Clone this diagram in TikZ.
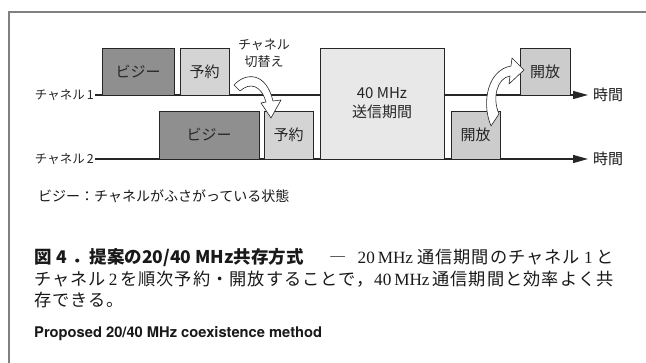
\documentclass[tikz,border=0pt]{standalone}
\usepackage{fontspec}
\setmainfont{Noto Sans CJK JP}
\newfontfamily\jp{Noto Sans CJK JP}
\newfontfamily\capjp{Noto Sans CJK JP}[LetterSpace=6]
\newfontfamily\hel{TeX Gyre Heros}
\newfontfamily\ser{Liberation Serif}
\usetikzlibrary{arrows.meta}
\begin{document}
\begin{tikzpicture}[x=1pt,y=-1pt,
  chlab/.style={font=\fontsize{12.5}{14}\selectfont, inner sep=1pt, text=black!85},
  timelab/.style={font=\fontsize{15}{17}\selectfont, inner sep=0pt, anchor=west, text=black!90},
  chline/.style={line width=1.2pt, black!85},
  boxbase/.style={draw=black!85, line width=0.9pt, inner sep=0pt,
    font=\fontsize{15}{19}\selectfont, text=black!85, align=center},
  busy/.style={boxbase, fill=black!44},
  resv/.style={boxbase, fill=black!17},
  wide/.style={boxbase, fill=black!9},
  relb/.style={boxbase, fill=black!20},
  fat/.style={draw=black!85, line width=0.6pt, fill=white, line join=round},
  captxt/.style={inner sep=0pt, font=\fontsize{17.2}{20}\selectfont\capjp, text=black!90},
]
\useasboundingbox (0,0) rectangle (646,363);
\fill[white] (0,0) rectangle (646,363);
% frame
\draw[black!50, line width=1.6pt] (9,363) -- (9,12) -- (646,12);

% channel labels and time labels
\node[chlab, anchor=east] (c1) at (95,95) {チャネル\,1};
\node[chlab, anchor=east] (c2) at (95,159) {チャネル\,2};
\node[timelab] (t1) at (593,95) {時間};
\node[timelab] (t2) at (593,159) {時間};

\draw[chline, -{Triangle[length=15pt,width=8pt]}] (c1.east) -- ([xshift=-5pt]t1.west);
\draw[chline, -{Triangle[length=15pt,width=8pt]}] (c2.east) -- ([xshift=-5pt]t2.west);

% boxes
\node[busy, minimum width=72pt, minimum height=47pt] (b1) at (138,71.5) {ビジー};
\node[resv, minimum width=49pt, minimum height=47pt] (r1) at (204.5,71.5) {予約};
\node[busy, minimum width=100pt, minimum height=48pt] (b2) at (209,135) {ビジー};
\node[resv, minimum width=49pt, minimum height=48pt] (r2) at (288.5,135) {予約};
\node[wide, minimum width=124pt, minimum height=111pt] (w) at (382,103.5) {40 MHz\\送信期間};
\node[relb, minimum width=49pt, minimum height=48pt] (o2) at (475.5,135) {開放};
\node[relb, minimum width=50pt, minimum height=47pt] (o1) at (545,71.5) {開放};

% switch label
\node[chlab, font=\fontsize{13}{17}\selectfont, align=center] (sw) at (264,53.5) {チャネル\\切替え};

% fat curved arrow 1 (channel switch)
\draw[fat] (234,85) .. controls (246,72) and (266,72) .. (273,101)
  -- (281,100) -- (271,118) -- (261,103) -- (266,102)
  .. controls (261,85) and (250,82) .. (240,91) -- cycle;

% fat curved arrow 2 (release)
\draw[fat] (491,126) .. controls (481,102) and (488,70) .. (511,66)
  -- (512,58) -- (524,70) -- (509,84) -- (510,76)
  .. controls (497,78) and (492,98) .. (499,114) -- cycle;

% legend
\node[anchor=west, inner sep=0pt, font=\fontsize{14}{16}\selectfont, text=black!90] (leg) at (38,196) {ビジー：チャネルがふさがっている状態};

% caption
\node[captxt, anchor=base west, font=\fontsize{17.5}{20}\selectfont\jp\bfseries] (cap1a) at (34,264) {図\;4\;．提案の20/40 MHz共存方式};
\node[captxt, anchor=base west] (cap1b) at (329,264) {―};
\node[captxt, anchor=base east] (cap1c) at (614,264) {{\ser 20\,MHz}\hspace{4pt}通信期間のチャネル\hspace{4pt}{\ser 1}\hspace{4pt}と};
\node[captxt, anchor=base west] (cap2a) at (34,286) {チャネル\,{\ser 2}\,を順次予約・開放することで，};
\node[captxt, anchor=base east] (cap2b) at (614,286) {{\ser 40\,MHz}\,通信期間と効率よく共};
\node[captxt, anchor=base west] (cap3) at (34,307) {存できる。};
\node[anchor=base west, inner sep=0pt, font=\fontsize{14.7}{17}\selectfont\hel\bfseries, text=black!90] (eng) at (34,338) {Proposed 20/40 MHz coexistence method};
\end{tikzpicture}
\end{document}
